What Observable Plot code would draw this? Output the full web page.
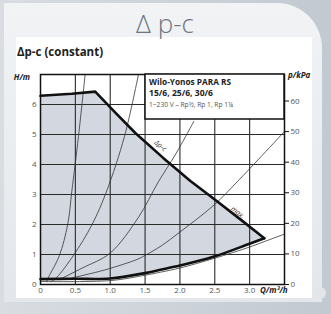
<!DOCTYPE html>
<html><head><meta charset="utf-8">
<script src="https://cdn.jsdelivr.net/npm/d3@7"></script>
<script src="https://cdn.jsdelivr.net/npm/@observablehq/plot@0.6"></script>
<style>
body{margin:0;width:331px;height:314px;overflow:hidden;background:linear-gradient(to right,#d9dde2,#c2c9d1);}
#wrap{position:relative;width:331px;height:314px;}
#panel{position:absolute;left:4px;top:3px;width:318px;height:299px;background:linear-gradient(to bottom,#f1f3f5,#e3e7eb);border-top-right-radius:45px;}
#white{position:absolute;left:16px;top:37px;width:296px;height:261px;background:#fff;}
#chart{position:absolute;left:0;top:0;}
#overlay{position:absolute;left:0;top:0;}
</style></head>
<body><div id="wrap"><div id="panel"></div><div id="white"></div><div id="chart"></div>
<svg id="overlay" width="331" height="314" font-family="'Open Sans', sans-serif">
  <circle cx="320" cy="293" r="6" fill="#e2e5e9"/>
  <text x="165" y="33" text-anchor="middle" font-size="26" fill="#6d767f" font-weight="300">Δ p-c</text>
  <text x="17" y="56" font-size="11.5" font-weight="bold" fill="#222">Δp-c (constant)</text>
  <text x="30" y="79.5" text-anchor="end" font-size="8" font-weight="bold" font-style="italic" fill="#222">H/m</text>
  <text x="288" y="78" font-size="8" font-weight="bold" font-style="italic" fill="#222">p/kPa</text>
  <text x="260" y="293" font-size="8" font-weight="bold" font-style="italic" fill="#222">Q/m³/h</text>
  <rect x="145" y="74" width="139" height="45" fill="#fff" stroke="#111" stroke-width="1.5"/>
  <text x="149" y="84.5" font-size="9.5" font-weight="bold" fill="#222" textLength="82" lengthAdjust="spacingAndGlyphs">Wilo-Yonos PARA RS</text>
  <text x="149" y="96" font-size="9.5" font-weight="bold" fill="#222" textLength="64" lengthAdjust="spacingAndGlyphs">15/6, 25/6, 30/6</text>
  <text x="149" y="106.5" font-size="7" fill="#555" textLength="84" lengthAdjust="spacingAndGlyphs">1~230 V – Rp½, Rp 1, Rp 1¼</text>
</svg>
</div>
<script>
// Max curve (Δp-c max) and min curve (Q in m³/h, H in m)
const maxQ = [0, 0.45, 0.785, 1.07, 1.36, 1.76, 2.15, 2.49, 2.89, 3.21];
const maxH = [6.29, 6.36, 6.43, 5.74, 5.05, 4.22, 3.45, 2.85, 2.13, 1.54];
const minQ = [0, 0.5, 1.0, 1.5, 1.72, 2.0, 2.49, 3.0, 3.21];
const minH = [0.18, 0.19, 0.2, 0.38, 0.49, 0.63, 0.93, 1.36, 1.54];
const lowQ = [0, 1.0, 1.5, 1.72, 2.0, 2.49, 3.0, 3.21, 3.5];
const lowH = [0.1, 0.13, 0.31, 0.41, 0.55, 0.87, 1.25, 1.43, 1.68];
// System curves
const sysAQ = [0.09, 0.115, 0.27, 0.39, 0.45, 0.545, 0.64];
const sysAH = [0.1, 0.24, 0.96, 2.0, 3.12, 4.94, 7.0];
const sysBQ = [0.16, 0.235, 0.47, 0.74, 0.95, 1.205, 1.405];
const sysBH = [0.1, 0.24, 0.96, 2.0, 3.12, 4.94, 7.0];
const sysCQ = [0.3, 0.6, 1.0, 1.405, 1.69, 1.94, 2.2];
const sysCH = [0.2, 0.55, 1.05, 2.24, 3.42, 4.35, 5.44];
const sysDQ = [0.45, 0.93, 1.4, 1.5, 1.74, 2.0, 2.49, 2.82, 3.5];
const sysDH = [0.22, 0.49, 0.85, 0.97, 1.3, 1.75, 2.65, 3.42, 5.1];
// Axes
const xTicks = [0, 0.5, 1.0, 1.5, 2.0, 2.5, 3.0];
const xGrid = [0.5, 1.0, 1.5, 2.0, 2.5, 3.0];
const hTicks = [0, 1, 2, 3, 4, 5, 6];
const hGrid = [1, 2, 3, 4, 5, 6];
const kpaTicks = [0, 10, 20, 30, 40, 50, 60];
const curveLabels = [{label: "Δp-c", Q: 1.72, H: 4.62}, {label: "max.", Q: 2.83, H: 2.4}];

const pts = (qs, hs) => qs.map((q, i) => ({Q: q, H: hs[i]}));
const maxCurve = pts(maxQ, maxH);
const minCurve = pts(minQ, minH);
const field = maxCurve.concat(minCurve.slice().reverse());
const sys = [pts(sysAQ, sysAH), pts(sysBQ, sysBH), pts(sysCQ, sysCH), pts(sysDQ, sysDH)];

const plot = Plot.plot({
  width: 331, height: 314,
  marginLeft: 40, marginRight: 47, marginTop: 74, marginBottom: 30,
  x: {domain: [0, 3.5]},
  y: {domain: [0, 7]},
  style: {background: "transparent", fontFamily: "'Open Sans', sans-serif", fontSize: "8px", color: "#555", overflow: "visible"},
  marks: [
    Plot.line(field, {x: "Q", y: "H", fill: "#d3d8e0", stroke: "none"}),
    Plot.gridX(xGrid, {stroke: "#2a2a2a", strokeOpacity: 1, strokeWidth: 1.1}),
    Plot.gridY(hGrid, {stroke: "#2a2a2a", strokeOpacity: 1, strokeWidth: 1.1}),
    ...sys.map(c => Plot.line(c, {x: "Q", y: "H", stroke: "#333", strokeWidth: 0.8, curve: "catmull-rom"})),
    Plot.line(pts(lowQ, lowH), {x: "Q", y: "H", stroke: "#333", strokeWidth: 0.8, curve: "catmull-rom"}),
    Plot.line(maxCurve, {x: "Q", y: "H", stroke: "#111", strokeWidth: 2.6, strokeLinejoin: "round"}),
    Plot.line(minCurve, {x: "Q", y: "H", stroke: "#111", strokeWidth: 2.6, strokeLinejoin: "round", curve: "catmull-rom"}),
    Plot.frame({stroke: "#111", strokeWidth: 1.5}),
    Plot.axisX({ticks: xTicks, tickFormat: d => d === 0 ? "0" : d.toFixed(1), tickSize: 0, tickPadding: 3, label: null}),
    Plot.axisY({ticks: hTicks, tickFormat: d => String(d), tickSize: 0, tickPadding: 4, label: null, anchor: "left"}),
    Plot.axisY({anchor: "right", ticks: kpaTicks.map(k => k / 9.81), tickFormat: d => String(Math.round(d * 9.81)), tickSize: 4, tickPadding: 2, label: null, stroke: "#111"}),
    Plot.text([curveLabels[0]], {x: "Q", y: "H", text: "label", rotate: 40, fontSize: 7, fill: "#333", fontStyle: "italic"}),
    Plot.text([curveLabels[1]], {x: "Q", y: "H", text: "label", rotate: 38, fontSize: 7, fill: "#333", fontStyle: "italic"})
  ]
});
document.getElementById("chart").appendChild(plot);
</script>
</body></html>
